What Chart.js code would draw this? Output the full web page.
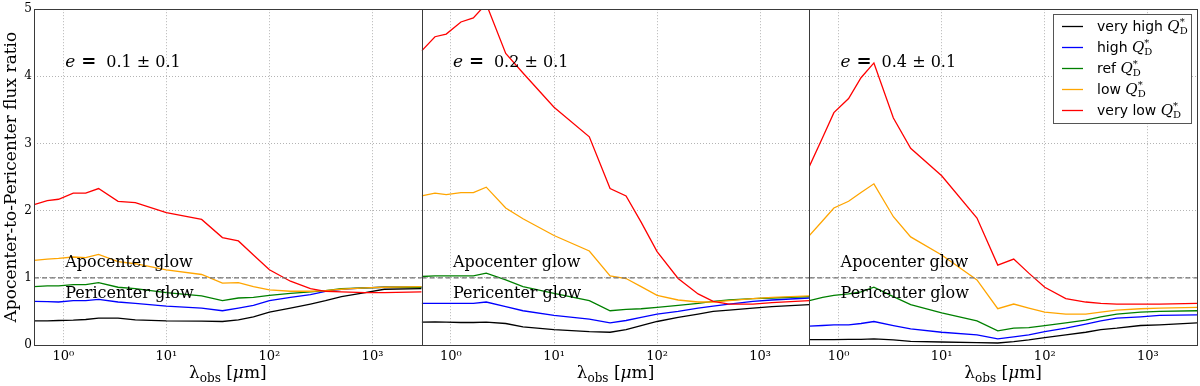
<!DOCTYPE html>
<html>
<head>
<meta charset="utf-8">
<script src="https://cdn.jsdelivr.net/npm/chart.js@4"></script>
<style>
  html, body { margin: 0; padding: 0; background: #fff; }
</style>
</head>
<body>
<canvas id="flux" width="1200" height="386"></canvas>
<script>
// wavelengths in micron (same grid for every curve)
const wavelengths = [0.52, 0.7, 0.9, 1.25, 1.65, 2.2, 3.4, 5, 10, 22, 35, 50, 70, 100, 160, 250, 350, 500, 850, 1300, 3000];
const xMin = 0.52, xMax = 3000;
const xTickValues = [1, 10, 100, 1000];
const xTickLabels = ["10⁰", "10¹", "10²", "10³"];
const unityRatio = 1;

const seriesNames = ["very high", "high", "ref", "low", "very low"];
const seriesColors = ["#000000", "#0000ff", "#008000", "#ffa500", "#ff0000"];
const eccentricities = ["0.1 ± 0.1", "0.2 ± 0.1", "0.4 ± 0.1"];

// e = 0.1
const veryHigh1 = [0.36, 0.36, 0.365, 0.37, 0.38, 0.40, 0.40, 0.375, 0.36, 0.355, 0.35, 0.375, 0.42, 0.49, 0.55, 0.61, 0.66, 0.72, 0.78, 0.83, 0.84];
const high1     = [0.65, 0.645, 0.64, 0.66, 0.66, 0.68, 0.64, 0.62, 0.58, 0.55, 0.51, 0.55, 0.59, 0.66, 0.71, 0.75, 0.80, 0.83, 0.85, 0.86, 0.86];
const ref1      = [0.87, 0.88, 0.88, 0.90, 0.90, 0.93, 0.86, 0.84, 0.78, 0.73, 0.66, 0.70, 0.71, 0.74, 0.77, 0.79, 0.81, 0.84, 0.85, 0.86, 0.86];
const low1      = [1.26, 1.28, 1.29, 1.31, 1.30, 1.35, 1.24, 1.21, 1.12, 1.05, 0.92, 0.93, 0.87, 0.82, 0.80, 0.80, 0.81, 0.83, 0.85, 0.86, 0.87];
const veryLow1  = [2.09, 2.15, 2.17, 2.26, 2.26, 2.33, 2.14, 2.12, 1.97, 1.87, 1.60, 1.55, 1.34, 1.12, 0.95, 0.84, 0.80, 0.79, 0.78, 0.78, 0.79];

// e = 0.2
const veryHigh2 = [0.34, 0.345, 0.34, 0.335, 0.335, 0.34, 0.32, 0.27, 0.23, 0.20, 0.19, 0.23, 0.29, 0.35, 0.41, 0.46, 0.50, 0.52, 0.55, 0.57, 0.60];
const high2     = [0.62, 0.62, 0.62, 0.62, 0.62, 0.64, 0.57, 0.51, 0.44, 0.385, 0.33, 0.365, 0.41, 0.46, 0.50, 0.55, 0.58, 0.61, 0.65, 0.67, 0.70];
const ref2      = [1.02, 1.03, 1.03, 1.03, 1.03, 1.07, 0.97, 0.87, 0.77, 0.66, 0.51, 0.53, 0.54, 0.56, 0.59, 0.62, 0.65, 0.67, 0.69, 0.70, 0.72];
const low2      = [2.22, 2.26, 2.24, 2.27, 2.27, 2.35, 2.04, 1.88, 1.63, 1.40, 1.03, 0.99, 0.87, 0.74, 0.67, 0.64, 0.64, 0.66, 0.69, 0.71, 0.73];
const veryLow2  = [4.38, 4.59, 4.63, 4.81, 4.87, 5.08, 4.34, 4.05, 3.54, 3.10, 2.33, 2.22, 1.83, 1.39, 0.99, 0.76, 0.65, 0.61, 0.61, 0.63, 0.66];

// e = 0.4
const veryHigh3 = [0.08, 0.08, 0.08, 0.085, 0.085, 0.09, 0.075, 0.055, 0.045, 0.035, 0.03, 0.05, 0.075, 0.11, 0.15, 0.19, 0.23, 0.25, 0.29, 0.30, 0.33];
const high3     = [0.28, 0.29, 0.30, 0.30, 0.32, 0.35, 0.29, 0.24, 0.19, 0.15, 0.09, 0.12, 0.15, 0.20, 0.25, 0.31, 0.36, 0.40, 0.42, 0.44, 0.45];
const ref3      = [0.66, 0.71, 0.74, 0.76, 0.79, 0.86, 0.72, 0.60, 0.48, 0.36, 0.21, 0.25, 0.26, 0.29, 0.33, 0.37, 0.42, 0.46, 0.49, 0.50, 0.51];
const low3      = [1.63, 1.85, 2.04, 2.14, 2.27, 2.40, 1.91, 1.61, 1.34, 0.97, 0.54, 0.61, 0.55, 0.49, 0.46, 0.46, 0.49, 0.52, 0.54, 0.55, 0.56];
const veryLow3  = [2.66, 3.09, 3.46, 3.67, 3.98, 4.20, 3.38, 2.93, 2.52, 1.89, 1.19, 1.28, 1.07, 0.86, 0.69, 0.64, 0.62, 0.61, 0.61, 0.61, 0.62];

const panels = [
  [veryHigh1, high1, ref1, low1, veryLow1],
  [veryHigh2, high2, ref2, low2, veryLow2],
  [veryHigh3, high3, ref3, low3, veryLow3],
];
const panelIds = ["x0", "x1", "x2"];

const SERIF = "'DejaVu Serif', serif";
const SANS = "'DejaVu Sans', sans-serif";
Chart.defaults.font.family = SERIF;
Chart.defaults.color = "#000";

const datasets = [];
panels.forEach((curves, p) => {
  datasets.push({
    label: "unity",
    data: [{x: xMin, y: unityRatio}, {x: xMax, y: unityRatio}],
    xAxisID: panelIds[p], yAxisID: "y",
    borderColor: "#707070", borderWidth: 1.3, borderDash: [5, 3],
    pointRadius: 0, order: 0,
  });
  curves.forEach((vals, s) => {
    datasets.push({
      label: seriesNames[s],
      data: wavelengths.map((w, i) => ({x: w, y: vals[i]})),
      xAxisID: panelIds[p], yAxisID: "y",
      borderColor: seriesColors[s], borderWidth: 1.3,
      pointRadius: 0, tension: 0, order: 5 - s,
    });
  });
});

const gridColor = "#b4b4b4";
function xScale(id) {
  return {
    type: "logarithmic", position: "bottom", stack: "panels", stackWeight: 1,
    min: xMin, max: xMax, bounds: "data",
    afterBuildTicks(scale) { scale.ticks = xTickValues.map(v => ({value: v})); },
    ticks: {
      callback: (v, i) => xTickLabels[i],
      padding: 4, maxRotation: 0, autoSkip: false,
      font: {size: 13},
    },
    grid: {color: gridColor, drawTicks: false},
    border: {display: false, dash: [1, 2]},
    afterFit(scale) { scale.height = 41; },
  };
}

const scales = {
  y: {
    type: "linear", position: "left", min: 0, max: 5,
    ticks: {stepSize: 1, padding: 2, font: {size: 12}},
    grid: {color: gridColor, drawTicks: false},
    border: {display: false, dash: [1, 2]},
    title: {
      display: true, text: "Apocenter-to-Pericenter flux ratio",
      font: {size: 17, lineHeight: 1.2}, padding: {top: 1, bottom: 0},
    },
    afterFit(scale) { scale.width = 34; },
  },
};
panelIds.forEach(id => { scales[id] = xScale(id); });

// frames, annotations, axis titles and legend drawn with sub/superscripts
const decor = {
  id: "decor",
  afterDatasetsDraw(chart) {
    const {ctx, chartArea: a} = chart;
    const y = chart.scales.y;
    ctx.save();
    panelIds.forEach((id, p) => {
      const s = chart.scales[id];
      // frame
      ctx.strokeStyle = "#3a3a3a";
      ctx.lineWidth = 1;
      ctx.strokeRect(Math.round(s.left) + 0.5, Math.round(a.top) + 0.5,
                     Math.round(s.right) - Math.round(s.left), Math.round(a.bottom) - Math.round(a.top));

      const x0 = s.getPixelForValue(1) + 2;
      ctx.fillStyle = "#000";
      ctx.textBaseline = "alphabetic";
      ctx.textAlign = "left";
      // e = ...
      const yb = y.getPixelForValue(4.14);
      ctx.font = "italic 17px " + SERIF;
      ctx.fillText("e", x0, yb);
      ctx.font = "bold 18px " + SERIF;
      ctx.fillText("=", x0 + 16, yb);
      ctx.font = "16px " + SERIF;
      ctx.fillText(eccentricities[p], x0 + 41, yb);
      // glow labels
      ctx.font = "16px " + SERIF;
      ctx.fillText("Apocenter glow", x0, y.getPixelForValue(1.16));
      ctx.fillText("Pericenter glow", x0, y.getPixelForValue(0.695));

      // x title: lambda_obs [mu m]
      const cx = (s.left + s.right) / 2;
      const by = 378;
      const parts = [
        {t: "λ", f: "17px " + SERIF, dy: 0},
        {t: "obs", f: "12px " + SERIF, dy: 4},
        {t: " [", f: "17px " + SERIF, dy: 0},
        {t: "μ", f: "italic 17px " + SERIF, dy: 0},
        {t: "m]", f: "17px " + SERIF, dy: 0},
      ];
      let total = 0;
      parts.forEach(pt => { ctx.font = pt.f; pt.w = ctx.measureText(pt.t).width; total += pt.w; });
      let x = cx - total / 2;
      parts.forEach(pt => { ctx.font = pt.f; ctx.fillText(pt.t, x, by + pt.dy); x += pt.w; });
    });

    // legend
    const lx = 1053, ly = 14, lw = 138, lh = 109;
    ctx.fillStyle = "#fff";
    ctx.fillRect(lx, ly, lw, lh);
    ctx.strokeStyle = "#555";
    ctx.lineWidth = 1;
    ctx.strokeRect(lx + 0.5, ly + 0.5, lw, lh);
    seriesNames.forEach((name, i) => {
      const ey = ly + 12 + i * 21;
      ctx.strokeStyle = seriesColors[i];
      ctx.lineWidth = 1.3;
      ctx.beginPath();
      ctx.moveTo(lx + 9, ey + 0.5);
      ctx.lineTo(lx + 30, ey + 0.5);
      ctx.stroke();
      ctx.fillStyle = "#000";
      let tx = lx + 44;
      const tb = ey + 5;
      ctx.font = "14px " + SANS;
      ctx.fillText(name + " ", tx, tb);
      tx += ctx.measureText(name + " ").width;
      ctx.font = "italic 15px " + SERIF;
      ctx.fillText("Q", tx, tb);
      tx += ctx.measureText("Q").width;
      ctx.font = "10px " + SERIF;
      ctx.fillText("D", tx, tb + 3);
      ctx.fillText("*", tx, tb - 6);
    });
    ctx.restore();
  },
};

new Chart(document.getElementById("flux").getContext("2d"), {
  type: "line",
  data: {datasets},
  options: {
    responsive: false,
    animation: false,
    parsing: true,
    layout: {padding: {top: 7, right: 3, bottom: 0, left: 0}},
    plugins: {legend: {display: false}, tooltip: {enabled: false}},
    scales,
  },
  plugins: [decor],
});
</script>
</body>
</html>
